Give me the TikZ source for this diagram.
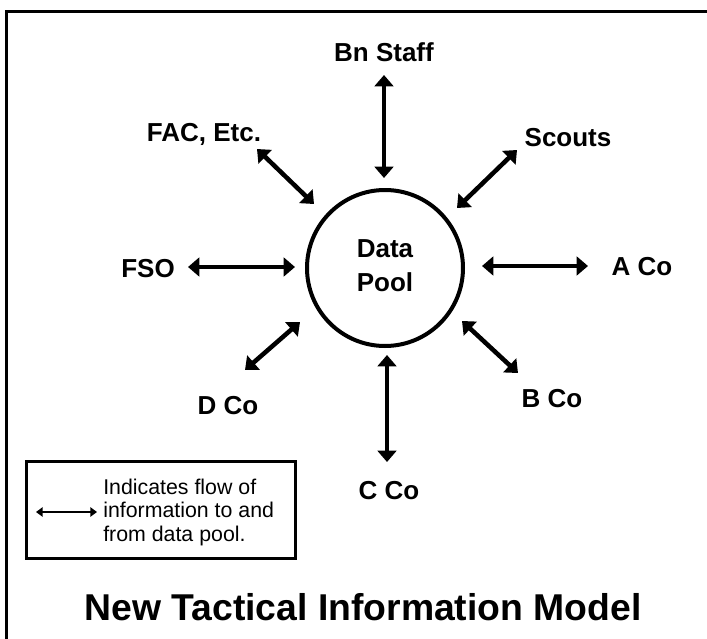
\documentclass[tikz,border=0pt]{standalone}
\usepackage{fontspec}
\setmainfont{Liberation Sans}
\usetikzlibrary{arrows.meta}
\begin{document}
\begin{tikzpicture}[x=0.75pt,y=-0.75pt,
  lbl/.style={font=\fontsize{19.5}{22}\selectfont\bfseries,anchor=base,inner sep=0pt},
  flow/.style={line width=3.4pt,{Triangle[length=8.5pt,width=14pt]}-{Triangle[length=8.5pt,width=14pt]}},
  legflow/.style={line width=1.5pt,{Triangle[length=5pt,width=7pt]}-{Triangle[length=5pt,width=7pt]}},
  legtxt/.style={font=\fontsize{16}{18}\selectfont,anchor=base west,inner sep=0pt}]
\useasboundingbox (0,0) rectangle (707,639);
% frame
\coordinate (fr1) at (707,11);
\coordinate (fr2) at (6,11);
\coordinate (fr3) at (6,639);
\draw[line width=2.25pt] (fr1) -- (fr2) -- (fr3);
% pool
\node[circle,draw,line width=3pt,minimum size=117pt,inner sep=0pt] (pool) at (385,268) {};
\node[lbl] (data) at (385,257) {Data};
\node[lbl] (poolt) at (385,291) {Pool};
% labels
\node[lbl] (bn) at (384,61) {Bn Staff};
\node[lbl] (sc) at (568,146) {Scouts};
\node[lbl] (aco) at (642,275) {A Co};
\node[lbl] (bco) at (552,407) {B Co};
\node[lbl] (cco) at (389,499) {C Co};
\node[lbl] (dco) at (228,414) {D Co};
\node[lbl] (fso) at (148,277) {FSO};
\node[lbl] (fac) at (204,141) {FAC, Etc.};
% arrow ends
\coordinate (bn1) at (384,75);  \coordinate (bn2) at (384,178);
\coordinate (sc1) at (517,150); \coordinate (sc2) at (457,208);
\coordinate (a1) at (482,266);  \coordinate (a2) at (588,266);
\coordinate (b1) at (462,321);  \coordinate (b2) at (518,373);
\coordinate (c1) at (387,355);  \coordinate (c2) at (387,462);
\coordinate (d1) at (245,370);  \coordinate (d2) at (300,322);
\coordinate (f1) at (188,267);  \coordinate (f2) at (295,267);
\coordinate (fa1) at (257,149); \coordinate (fa2) at (314,204);
\draw[flow] (bn1) -- (bn2);
\draw[flow] (sc1) -- (sc2);
\draw[flow] (a1) -- (a2);
\draw[flow] (b1) -- (b2);
\draw[flow] (c1) -- (c2);
\draw[flow] (d1) -- (d2);
\draw[flow] (f1) -- (f2);
\draw[flow] (fa1) -- (fa2);
% legend
\node[draw,line width=2.25pt,minimum width=201.75pt,minimum height=72.75pt,inner sep=0pt] (leg) at (160.5,509.5) {};
\coordinate (l1) at (36,512); \coordinate (l2) at (97,512);
\draw[legflow] (l1) -- (l2);
\node[legtxt] (lt1) at (103,494) {Indicates flow of};
\node[legtxt] (lt2) at (103,517.5) {information to and};
\node[legtxt] (lt3) at (103,541) {from data pool.};
% title
\node[font=\fontsize{28}{32}\selectfont\bfseries,anchor=base,inner sep=0pt] (title) at (363,620) {New Tactical Information Model};
\end{tikzpicture}
\end{document}
